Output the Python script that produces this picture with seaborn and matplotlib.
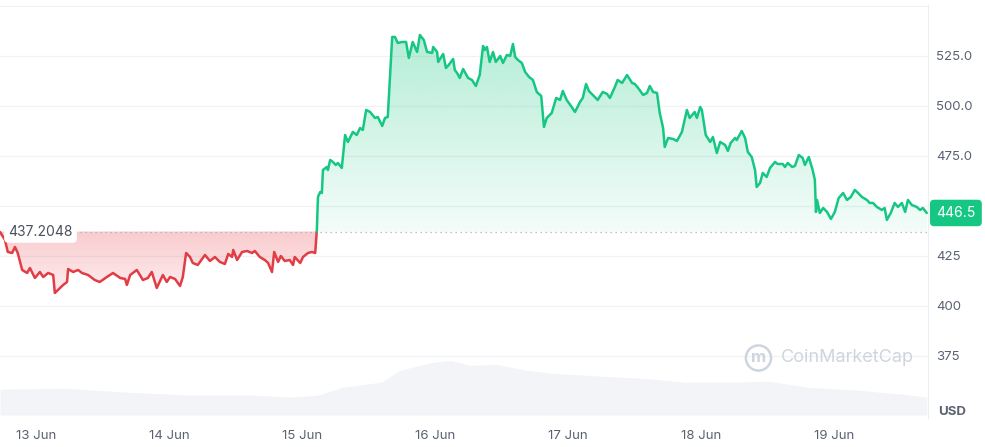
import matplotlib.pyplot as plt
import matplotlib.dates as mdates
import numpy as np
import pandas as pd
import seaborn as sns

# Price data (hours after the window start)
start = pd.Timestamp('2024-06-12 17:30')
hours = [
    0.0, 0.9, 1.4, 2.2, 2.7, 3.2, 4.0, 4.9, 5.4, 6.3, 7.2, 7.8, 8.7, 9.6, 9.9, 11.4, 12.1, 12.3, 13.2, 14.1,
    14.8, 15.9, 17.1, 18.0, 19.3, 20.4, 21.7, 22.6, 22.9, 23.5, 24.7, 25.8, 26.7, 27.4, 28.3, 29.4, 30.1, 30.7,
    31.6, 32.5, 33.0, 33.6, 34.3, 34.8, 35.7, 37.0, 37.9, 38.8, 39.7, 40.6, 41.2, 41.9, 42.1, 42.8, 43.7, 44.6,
    45.5, 46.0, 46.9, 47.8, 48.4, 49.1, 49.5, 50.2, 50.7, 51.4, 52.3, 52.9, 53.2, 54.2, 54.7, 55.6, 56.3, 56.9,
    57.2, 57.4, 57.8, 58.1, 58.3, 59.0, 59.2, 59.6, 60.1, 60.6, 61.0, 61.7, 62.3, 62.8, 63.7, 64.4, 65.0, 65.5,
    66.1, 66.8, 67.7, 68.2, 69.0, 69.5, 70.0, 70.8, 71.3, 71.8, 72.6, 73.3, 73.8, 74.5, 75.3, 75.8, 76.5, 77.1,
    78.0, 78.2, 78.9, 79.1, 80.0, 80.5, 81.0, 81.8, 82.1, 82.5, 83.0, 83.6, 84.5, 85.2, 85.9, 86.6, 87.2, 87.5,
    87.9, 88.4, 89.0, 89.5, 90.3, 90.8, 91.5, 92.1, 92.6, 93.0, 93.5, 94.2, 94.8, 95.5, 96.2, 96.9, 97.7, 98.2,
    98.7, 99.6, 100.4, 101.1, 101.6, 102.3, 103.2, 103.8, 104.7, 105.2, 105.8, 106.3, 107.0, 107.9, 108.8,
    109.6, 110.1, 111.0, 111.5, 112.3, 113.2, 114.1, 114.6, 115.2, 116.1, 116.8, 117.3, 117.9, 118.6, 119.1,
    119.7, 120.0, 120.6, 121.5, 122.2, 123.1, 124.0, 124.5, 125.4, 125.8, 126.4, 126.7, 127.4, 128.2, 128.7,
    129.4, 130.0, 130.9, 131.4, 131.9, 132.7, 133.0, 133.9, 134.5, 135.0, 135.7, 136.3, 136.6, 137.2, 137.7,
    138.4, 139.0, 139.9, 140.4, 141.3, 141.7, 142.2, 143.0, 143.5, 144.2, 144.9, 145.3, 146.0, 146.7, 147.1,
    147.3, 147.5, 148.0, 148.6, 149.3, 150.0, 150.7, 151.4, 152.2, 152.9, 153.6, 154.3, 154.9, 155.6, 156.5,
    157.0, 157.6, 158.3, 159.2, 159.7, 160.1, 160.8, 161.5, 162.1, 162.8, 163.4, 163.9, 164.6, 165.5, 166.1,
    166.6, 167.3,
]
price = [
    437.0, 433.0, 427.0, 426.5, 429.5, 426.5, 418.0, 416.5, 419.0, 414.0, 417.0, 414.5, 416.5, 415.5, 406.5,
    410.5, 412.0, 418.5, 417.0, 418.0, 416.5, 415.5, 413.0, 412.0, 414.5, 416.5, 414.0, 413.5, 410.5, 415.5,
    418.0, 413.0, 414.0, 417.0, 409.0, 415.5, 412.0, 414.5, 413.5, 410.0, 414.5, 426.5, 424.5, 421.5, 420.5,
    425.5, 422.5, 424.5, 422.0, 421.0, 426.0, 424.5, 428.0, 423.0, 427.0, 427.5, 426.5, 427.5, 424.5, 423.0,
    421.5, 417.0, 427.0, 422.0, 425.0, 422.5, 423.0, 420.5, 424.5, 421.5, 424.5, 426.5, 427.0, 426.5,
    438.0, 454.5, 457.0, 456.5, 468.0, 469.5, 468.0, 473.0, 472.0, 470.5, 471.5, 469.0, 485.5, 482.0, 487.0,
    485.5, 489.0, 488.0, 498.0, 497.0, 494.0, 494.5, 490.0, 494.0, 494.5, 534.5, 534.5, 531.5, 532.0, 532.0,
    524.0, 532.0, 527.0, 535.5, 533.0, 527.0, 526.5, 529.5, 527.0, 522.0, 526.0, 519.0, 520.5, 523.5, 518.0,
    516.5, 514.0, 518.5, 514.0, 513.0, 510.0, 515.5, 530.0, 528.0, 529.5, 522.0, 527.0, 522.0, 525.0, 521.5,
    525.5, 525.0, 531.0, 524.5, 523.0, 521.5, 517.0, 514.5, 513.0, 507.0, 505.0, 489.5, 494.0, 496.5, 504.0,
    503.0, 507.5, 503.0, 499.5, 497.0, 502.0, 504.0, 511.0, 507.5, 505.5, 503.0, 507.0, 506.0, 504.0, 509.5,
    513.0, 511.5, 515.5, 511.5, 511.0, 509.0, 505.5, 506.5, 510.0, 507.0, 506.5, 496.5, 489.0, 479.5, 484.0,
    483.5, 482.5, 487.0, 498.0, 494.0, 497.0, 494.0, 499.5, 498.0, 485.5, 482.0, 484.5, 476.5, 482.0, 480.5,
    477.5, 481.5, 484.0, 483.0, 487.5, 484.0, 477.0, 474.5, 468.0, 459.5, 461.5, 466.5, 464.5, 469.0, 472.0,
    471.0, 471.0, 469.5, 471.5, 469.5, 470.0, 475.5, 474.0, 470.5, 474.5, 468.0, 463.0, 447.0, 453.0, 446.5,
    449.0, 447.0, 443.5, 447.0, 454.0, 456.5, 453.0, 454.5, 458.0, 456.5, 454.5, 453.0, 451.5, 451.5, 449.5,
    448.0, 449.0, 443.0, 446.5, 451.5, 449.5, 451.5, 447.0, 453.0, 450.5, 449.5, 448.0, 449.0, 446.5,
]

# Volume (arbitrary units) sampled along the same window
vol_hours = [0.0, 11.6, 22.9, 34.5, 45.8, 52.7, 57.4, 61.9, 68.8, 72.2, 78.0, 81.4, 84.8,
             89.5, 95.1, 99.8, 109.0, 115.9, 123.8, 131.9, 138.8, 145.7, 154.9, 162.8, 167.3]
volume = [260, 270, 230, 200, 200, 180, 200, 280, 330, 450, 530, 550, 500,
          510, 450, 420, 390, 370, 330, 330, 340, 280, 250, 210, 180]

base_price = 437.2048
last_price = 446.5
day_labels = ['13 Jun', '14 Jun', '15 Jun', '16 Jun', '17 Jun', '18 Jun', '19 Jun']
y_ticks = [375, 400, 425, 450, 475, 500, 525]
y_labels = ['375', '400', '425', '', '475.0', '500.0', '525.0']

GREEN = '#16c784'
RED = '#e23c44'
TEXT = '#5a6270'

sns.set_style('white')
plt.rcParams['font.family'] = ['Inter', 'DejaVu Sans']

df = pd.DataFrame({'time': start + pd.to_timedelta(hours, unit='h'), 'price': price})
vol = pd.DataFrame({'time': start + pd.to_timedelta(vol_hours, unit='h'), 'volume': volume})

# split the series where it crosses the opening price
i = int(np.where(df['price'].values < base_price)[0].max())
h0, h1 = hours[i], hours[i + 1]
p0, p1 = price[i], price[i + 1]
hc = h0 + (base_price - p0) / (p1 - p0) * (h1 - h0)
red = pd.DataFrame({'time': start + pd.to_timedelta(hours[:i + 1] + [hc], unit='h'),
                    'price': price[:i + 1] + [base_price]})
green = pd.DataFrame({'time': start + pd.to_timedelta([hc] + hours[i + 1:], unit='h'),
                      'price': [base_price] + price[i + 1:]})

fig = plt.figure(figsize=(9.85, 4.47), dpi=100)
rect = [0.0, 0.0649, 0.942, 0.924]
ax_vol = fig.add_axes(rect)
ax = fig.add_axes(rect)
ax.patch.set_alpha(0)

x_min = start
x_max = start + pd.Timedelta(hours=167.5)

# volume area
ax_vol.fill_between(vol['time'], vol['volume'], 0, color='#f3f4f7', lw=0)
ax_vol.set_xlim(x_min, x_max)
ax_vol.set_ylim(-30, 4130)
ax_vol.axis('off')


def gradient_fill(ax, data, color, a_top, a_bottom):
    poly = ax.fill_between(data['time'], data['price'], base_price, color='none', lw=0)
    ys = data['price'].values
    y_top = max(ys.max(), base_price)
    y_bot = min(ys.min(), base_price)
    rgb = plt.matplotlib.colors.to_rgb(color)
    grad = np.zeros((100, 1, 4))
    grad[:, :, :3] = rgb
    grad[:, 0, 3] = np.linspace(a_top, a_bottom, 100)
    x0 = mdates.date2num(data['time'].iloc[0])
    x1 = mdates.date2num(data['time'].iloc[-1])
    im = ax.imshow(grad, aspect='auto', extent=[x0, x1, y_bot, y_top], origin='upper', zorder=1)
    im.set_clip_path(poly.get_paths()[0], transform=ax.transData)


gradient_fill(ax, green, GREEN, 0.32, 0.05)
gradient_fill(ax, red, '#ea3943', 0.26, 0.09)

sns.lineplot(data=red, x='time', y='price', ax=ax, color=RED, lw=1.8, zorder=3)
sns.lineplot(data=green, x='time', y='price', ax=ax, color=GREEN, lw=1.8, zorder=3)

# opening price reference
ax.axhline(base_price, color='#a6acb8', lw=0.9, ls=(0, (1, 3)), zorder=2)

ax.set_xlim(x_min, x_max)
ax.set_ylim(344, 550.5)

ax.set_yticks(y_ticks)
ax.set_yticklabels(y_labels)
ax.yaxis.tick_right()
ax.tick_params(axis='y', length=0, pad=6, labelsize=9.5, labelcolor=TEXT)
ax.set_xticks(pd.date_range('2024-06-13', periods=7, freq='D'))
ax.set_xticklabels(day_labels)
ax.tick_params(axis='x', length=0, pad=9, labelsize=9.5, labelcolor=TEXT)
ax.set_xlabel('')
ax.set_ylabel('')

ax.grid(axis='y', color='#f0f2f5', lw=0.9)
ax.grid(axis='x', visible=False)
for side in ['top', 'left', 'bottom']:
    ax.spines[side].set_visible(False)
ax.spines['right'].set_color('#eceef1')
ax.axhline(550, color='#f0f2f5', lw=0.9, zorder=0)

# labels
ax.annotate(f'{base_price:.4f}', xy=(0, base_price), xycoords=('axes fraction', 'data'),
            xytext=(6, 0), textcoords='offset points', ha='left', va='center',
            fontsize=10, color='#4a505c', zorder=5,
            bbox=dict(boxstyle='round,pad=0.3,rounding_size=0.3', fc='white', ec='none'))
ax.annotate(f'{last_price}', xy=(1, last_price), xycoords=('axes fraction', 'data'),
            xytext=(6, 0), textcoords='offset points', ha='left', va='center',
            fontsize=10, color='white', annotation_clip=False, zorder=5,
            bbox=dict(boxstyle='round,pad=0.45,rounding_size=0.3', fc=GREEN, ec='none'))
fig.text(0.952, 1 - 412 / 447, 'USD', fontsize=9.5, fontweight='bold', color=TEXT, va='center')

# watermark
fig.text(0.770, 1 - 358 / 447, 'm', fontsize=12, color='#cfd5df', ha='center', va='center',
         fontweight='bold',
         bbox=dict(boxstyle='circle,pad=0.3', fc='none', ec='#cfd5df', lw=1.8))
fig.text(0.793, 1 - 358 / 447, 'CoinMarketCap', fontsize=13, color='#cfd5df', va='center')

plt.savefig('out.png', dpi=100)
